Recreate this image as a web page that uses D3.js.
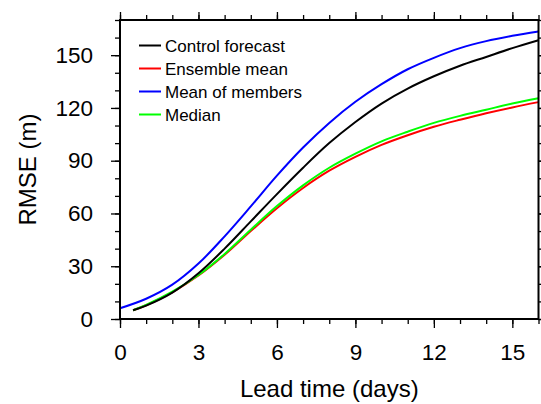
<!DOCTYPE html>
<html lang="en">
<head>
<meta charset="UTF-8"/>
<title>RMSE vs lead time</title>
<script src="https://d3js.org/d3.v7.min.js"></script>
<style>
    body { margin: 0; background: #fff; }
    svg { display: block; font-family: "Liberation Sans", Arial, Helvetica, sans-serif; }
</style>
</head>
<body>
<script>

    // lead times (days) and RMSE (m)
    var daysAll = [0, 1, 2, 3, 4, 5, 6, 7, 8, 9, 10, 11, 12, 13, 14, 15, 16];
    var days = [0.5, 1, 2, 3, 4, 5, 6, 7, 8, 9, 10, 11, 12, 13, 14, 15, 16];

    var control = [5, 7.6, 15, 26, 40, 55.5, 71, 86, 100, 112, 122.5, 131, 138, 144, 149, 154, 158.5];
    var ensMean = [5, 7.8, 15.2, 24.7, 36.5, 50, 63, 74.5, 84.3, 92.2, 99, 104.5, 109.3, 113.3, 117, 120.3, 123.3];
    var memMean = [6.1, 11.5, 19.5, 31.5, 47, 64, 81.5, 97.5, 111.5, 123.5, 133.5, 142, 148.5, 154, 158, 161, 163.5];
    var median  = [5, 8, 15.5, 25, 37, 50.8, 64.2, 76, 86, 94, 101, 106.5, 111.5, 115.5, 119, 122.5, 125.5];

    var xTicks = [0, 3, 6, 9, 12, 15];
    var yTicks = [0, 30, 60, 90, 120, 150];

    var series = [
        {name: "Control forecast", x: days, y: control, color: "#000000"},
        {name: "Ensemble mean", x: days, y: ensMean, color: "#ff0000"},
        {name: "Mean of members", x: daysAll, y: memMean, color: "#0000ff"},
        {name: "Median", x: days, y: median, color: "#00ff00"}
    ];
    // drawing order: green on top of red
    var drawOrder = [1, 3, 0, 2];

    var w = 541, h = 404;
    var padL = 120, padT = 20, padR = 538.5, padB = 319;

    var xScale = d3.scaleLinear().domain([0, 16]).range([padL, padR]);
    var yScale = d3.scaleLinear().domain([0, 170]).range([padB, padT]);

    var svg = d3.select("body").append("svg")
                .attr("width", w)
                .attr("height", h);

    // minor ticks
    var xMinor = d3.range(0, 17, 1), yMinor = d3.range(0, 171, 10);

    function tickGroup(axis, tf) {
        var g = svg.append("g").attr("transform", tf).call(axis);
        g.select(".domain").remove();
        g.selectAll(".tick line").attr("stroke", "#000").attr("stroke-width", 1.3);
        return g;
    }

    tickGroup(d3.axisBottom(xScale).tickValues(xMinor).tickSize(5).tickFormat(""), "translate(0," + padB + ")");
    tickGroup(d3.axisTop(xScale).tickValues(xMinor).tickSize(5).tickFormat(""), "translate(0," + padT + ")");
    tickGroup(d3.axisLeft(yScale).tickValues(yMinor).tickSize(5).tickFormat(""), "translate(" + padL + ",0)");
    tickGroup(d3.axisRight(yScale).tickValues(yMinor).tickSize(5).tickFormat(""), "translate(" + padR + ",0)");

    var xb = tickGroup(d3.axisBottom(xScale).tickValues(xTicks).tickSize(9).tickPadding(16), "translate(0," + padB + ")");
    tickGroup(d3.axisTop(xScale).tickValues(xTicks).tickSize(8).tickFormat(""), "translate(0," + padT + ")");
    var yl = tickGroup(d3.axisLeft(yScale).tickValues(yTicks).tickSize(9).tickPadding(18), "translate(" + padL + ",0)");
    tickGroup(d3.axisRight(yScale).tickValues(yTicks).tickSize(8).tickFormat(""), "translate(" + padR + ",0)");

    xb.attr("font-family", null);
    yl.attr("font-family", null);
    xb.selectAll("text").attr("font-size", 22.5).attr("fill", "#000");
    yl.selectAll("text").attr("font-size", 22.5).attr("fill", "#000");

    // curves
    var line = d3.line().curve(d3.curveCatmullRom.alpha(0.5));
    drawOrder.forEach(function(i) {
        var s = series[i];
        var pts = s.x.map(function(d, j) { return [xScale(d), yScale(s.y[j])]; });
        svg.append("path")
            .attr("d", line(pts))
            .attr("fill", "none")
            .attr("stroke", s.color)
            .attr("stroke-width", 2);
    });

    // frame
    svg.append("rect")
        .attr("x", padL).attr("y", padT)
        .attr("width", padR - padL).attr("height", padB - padT)
        .attr("fill", "none").attr("stroke", "#000").attr("stroke-width", 2);

    // legend
    var leg = svg.append("g");
    series.forEach(function(s, i) {
        var ly = 45.5 + i * 23;
        leg.append("line")
            .attr("x1", 139).attr("x2", 161)
            .attr("y1", ly).attr("y2", ly)
            .attr("stroke", s.color).attr("stroke-width", 2);
        leg.append("text")
            .attr("x", 165).attr("y", ly + 6.3)
            .attr("font-size", 17)
            .text(s.name);
    });

    // axis titles
    svg.append("text")
        .attr("text-anchor", "middle")
        .attr("x", (padL + padR) / 2)
        .attr("y", 396.5)
        .attr("font-size", 24)
        .text("Lead time (days)");

    svg.append("text")
        .attr("text-anchor", "middle")
        .attr("transform", "translate(36," + ((padT + padB) / 2) + ") rotate(-90)")
        .attr("font-size", 24)
        .text("RMSE (m)");

</script>
</body>
</html>
